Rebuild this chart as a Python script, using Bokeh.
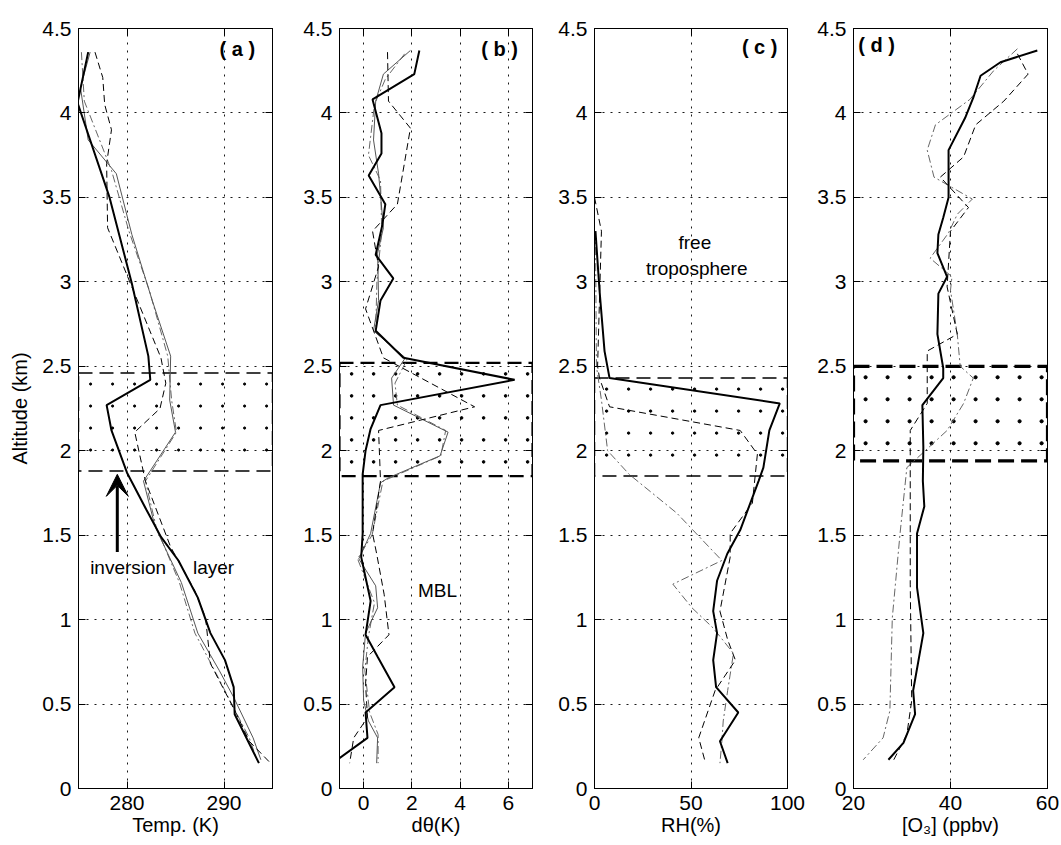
import numpy as np
from bokeh.plotting import figure
from bokeh.layouts import row
from bokeh.models import (Label, Arrow, VeeHead, LinearAxis, FixedTicker,
                          CustomJSTickFormatter, Range1d)
from bokeh.embed import file_html
from bokeh.resources import INLINE

FONT = "Liberation Sans"
ALT_TICKS = [0, 0.5, 1, 1.5, 2, 2.5, 3, 3.5, 4, 4.5]

# ---------------- panel (a): temperature ----------------
a_x_ticks = [280, 290]
a_thick_alt = [4.36, 4.06, 3.50, 2.99, 2.56, 2.42, 2.27, 2.12, 1.87, 1.65, 1.49, 1.35, 1.13, 0.92, 0.76, 0.60, 0.44, 0.15]
a_thick_T = [276.0, 274.9, 278.2, 280.5, 282.2, 282.4, 277.9, 278.4, 280.0, 282.0, 283.5, 285.3, 287.3, 288.6, 290.1, 291.0, 291.1, 293.6]
a_thin_alt = [4.36, 4.15, 3.84, 3.64, 3.28, 2.89, 2.56, 2.30, 2.11, 1.82, 1.55, 1.22, 0.92, 0.70, 0.54, 0.30, 0.17]
a_thin_T = [276.2, 275.2, 276.0, 278.9, 280.5, 282.6, 284.5, 284.4, 285.0, 281.7, 282.9, 285.6, 287.3, 289.5, 291.0, 293.0, 293.8]
a_dash_alt = [4.36, 4.21, 4.05, 3.90, 3.70, 3.32, 2.97, 2.55, 2.40, 2.25, 2.11, 1.82, 1.67, 1.43, 1.17, 1.01, 0.74, 0.44, 0.28, 0.15]
a_dash_T = [276.7, 277.5, 277.7, 278.4, 277.9, 278.0, 280.5, 283.5, 284.0, 283.4, 280.8, 281.9, 282.9, 284.5, 287.0, 288.1, 288.6, 291.3, 292.6, 294.8]
a_dd_alt = [4.36, 4.07, 3.66, 3.30, 2.95, 2.56, 2.30, 2.11, 1.82, 1.55, 1.22, 0.92, 0.68, 0.50, 0.30, 0.17]
a_dd_T = [275.3, 275.6, 278.4, 280.2, 282.3, 284.2, 284.6, 285.1, 281.9, 283.0, 285.4, 287.0, 289.2, 290.8, 292.6, 293.4]
a_box = [1.88, 2.46]

# ---------------- panel (b): d theta ----------------
b_x_ticks = [0, 2, 4, 6]
b_thick_alt = [4.37, 4.23, 4.08, 3.88, 3.76, 3.63, 3.46, 3.34, 3.16, 3.02, 2.89, 2.71, 2.55, 2.42, 2.27, 2.13, 2.00, 1.86, 1.51, 1.37, 1.11, 0.91, 0.78, 0.60, 0.45, 0.30, 0.15]
b_thick_d = [2.31, 2.10, 0.37, 0.74, 0.74, 0.21, 0.90, 0.78, 0.50, 1.23, 0.70, 0.50, 1.65, 6.26, 0.70, 0.29, 0.08, -0.04, -0.04, -0.10, 0.29, 0.08, 0.58, 1.28, 0.08, 0.16, -1.28]
b_thin_alt = [4.37, 4.23, 4.07, 3.84, 3.64, 3.32, 3.17, 2.89, 2.71, 2.55, 2.43, 2.27, 2.11, 1.97, 1.84, 1.81, 1.51, 1.36, 1.20, 1.07, 0.92, 0.72, 0.52, 0.40, 0.30, 0.15]
b_thin_d = [1.94, 0.82, 0.50, 0.41, 0.62, 0.82, 0.58, 0.62, 0.41, 1.73, 1.16, 1.24, 3.50, 3.17, 1.03, 0.70, 0.29, -0.20, 0.50, 0.58, 0.08, -0.04, 0.00, 0.20, 0.58, 0.54]
b_dash_alt = [4.36, 4.07, 3.91, 3.46, 3.30, 3.09, 2.84, 2.55, 2.26, 2.12, 1.82, 1.51, 1.39, 1.15, 0.91, 0.78, 0.62, 0.42, 0.30, 0.15]
b_dash_d = [0.99, 1.03, 1.94, 1.40, 0.37, 0.62, 0.08, 0.82, 4.60, 0.62, 0.70, 0.37, 0.54, 0.85, 1.05, 0.16, 0.08, 0.16, -0.41, -0.58]
b_dd_alt = [4.35, 4.20, 4.05, 3.75, 3.60, 3.30, 3.00, 2.70, 2.54, 2.40, 2.27, 2.12, 1.97, 1.82, 1.50, 1.36, 1.10, 0.90, 0.70, 0.45, 0.32, 0.15]
b_dd_d = [1.70, 0.90, 0.45, 0.20, 0.70, 0.75, 0.55, 0.50, 1.80, 1.30, 1.40, 3.40, 3.20, 0.80, 0.35, -0.25, 0.45, 0.20, 0.05, 0.25, 0.60, 0.60]
b_box = [1.85, 2.52]

# ---------------- panel (c): RH ----------------
c_x_ticks = [0, 50, 100]
c_thick_alt = [3.30, 2.95, 2.59, 2.43, 2.28, 2.12, 1.90, 1.82, 1.53, 1.39, 1.23, 1.05, 0.92, 0.76, 0.60, 0.45, 0.28, 0.15]
c_thick_rh = [0.5, 2.6, 5.2, 7.8, 96.0, 90.6, 87.5, 85.0, 75.5, 68.8, 63.5, 61.5, 63.5, 61.5, 63.0, 74.5, 65.0, 69.0]
c_dash_alt = [3.50, 3.30, 2.50, 2.43, 2.26, 2.12, 1.98, 1.69, 1.51, 1.37, 1.05, 0.88, 0.76, 0.58, 0.30, 0.16]
c_dash_rh = [0.0, 3.6, 1.6, 2.6, 7.8, 75.5, 84.4, 81.8, 70.3, 70.3, 65.0, 69.0, 73.0, 62.5, 54.0, 57.3]
c_dd_alt = [3.30, 2.50, 2.30, 2.00, 1.86, 1.63, 1.35, 1.21, 1.07, 0.95, 0.80, 0.58, 0.40, 0.28, 0.15]
c_dd_rh = [0.5, 1.0, 3.6, 6.8, 18.0, 42.7, 66.0, 40.6, 50.5, 61.5, 72.0, 69.0, 66.7, 66.0, 65.0]
c_box = [1.85, 2.43]

# ---------------- panel (d): ozone ----------------
d_x_ticks = [20, 40, 60]
d_thick_alt = [4.37, 4.30, 4.22, 4.09, 3.97, 3.78, 3.50, 3.38, 3.28, 3.17, 3.03, 2.93, 2.69, 2.49, 2.43, 2.27, 2.02, 1.82, 1.67, 1.51, 1.19, 0.92, 0.58, 0.44, 0.27, 0.17]
d_thick_o3 = [57.9, 50.3, 46.2, 44.7, 43.0, 39.6, 39.6, 38.5, 37.5, 37.3, 39.3, 37.5, 37.3, 38.5, 38.5, 34.2, 34.4, 34.3, 34.6, 33.1, 33.1, 34.4, 32.3, 32.7, 30.3, 27.2]
d_dd_alt = [4.38, 4.25, 4.08, 3.93, 3.78, 3.62, 3.49, 3.40, 3.29, 3.14, 3.03, 2.95, 2.69, 2.50, 2.43, 2.28, 2.12, 1.90, 1.51, 1.01, 0.46, 0.30, 0.17]
d_dd_o3 = [53.8, 48.9, 44.0, 36.9, 35.2, 36.6, 44.5, 41.4, 39.6, 35.8, 40.3, 40.0, 41.4, 42.0, 44.7, 42.7, 39.3, 31.0, 29.6, 28.0, 27.5, 26.1, 22.0]
d_dash_alt = [4.35, 4.23, 4.07, 3.93, 3.74, 3.62, 3.44, 3.30, 2.97, 2.69, 2.59, 2.46, 2.28, 2.12, 1.90, 1.21, 0.52, 0.32, 0.17]
d_dash_o3 = [53.8, 56.0, 51.0, 45.2, 42.7, 37.9, 43.7, 40.0, 39.3, 41.4, 35.2, 35.2, 35.2, 31.7, 31.7, 31.7, 32.0, 31.0, 28.3]
d_box = [1.94, 2.50]

STYLES = {
    "thick": dict(line_color="black", line_width=2.0),
    "thin": dict(line_color="#555555", line_width=1.0),
    "dash": dict(line_color="black", line_width=1.0, line_dash="7 4"),
    "dd": dict(line_color="#666666", line_width=1.0, line_dash="8 3 2 3"),
}

FRAME_H = 760.0
DOT_PITCH = 22.0  # pixels between stipple dots


def panel(xlim, xticks, xlabel, left, right, frame_w, ylabel=None):
    p = figure(width=left + frame_w + right, height=845,
               x_range=Range1d(*xlim), y_range=Range1d(0, 4.5),
               output_backend="svg", toolbar_location=None,
               min_border_left=left, min_border_right=right,
               min_border_top=28, min_border_bottom=57,
               background_fill_color="white", border_fill_color="white")
    p.outline_line_color = "black"
    p.add_layout(LinearAxis(), "right")
    p.add_layout(LinearAxis(), "above")
    for ax in p.xaxis:
        ax.ticker = FixedTicker(ticks=xticks)
    for ax in p.yaxis:
        ax.ticker = FixedTicker(ticks=ALT_TICKS)
    for ax in p.axis:
        ax.axis_line_color = "black"
        ax.major_tick_line_color = "black"
        ax.major_tick_in = 7
        ax.major_tick_out = 0
        ax.minor_tick_in = 0
        ax.minor_tick_out = 0
        ax.minor_tick_line_color = None
        ax.major_label_text_font = FONT
        ax.major_label_text_font_size = "21px"
        ax.major_label_text_color = "black"
        ax.major_label_standoff = 7
        ax.axis_label_text_font = FONT
        ax.axis_label_text_font_size = "20px"
        ax.axis_label_text_font_style = "normal"
        ax.axis_label_text_color = "black"
        ax.axis_label_standoff = 1
    p.below[0].formatter = CustomJSTickFormatter(code="return String(tick)")
    p.left[0].formatter = CustomJSTickFormatter(code="return String(tick)")
    p.right[0].formatter = CustomJSTickFormatter(code="return ''")
    p.above[0].formatter = CustomJSTickFormatter(code="return ''")
    p.above[0].major_label_standoff = 0
    p.right[0].major_label_standoff = 0
    p.below[0].axis_label = xlabel
    if ylabel:
        p.left[0].axis_label = ylabel
        p.left[0].axis_label_standoff = 8
    p.xgrid.ticker = FixedTicker(ticks=xticks)
    p.ygrid.ticker = FixedTicker(ticks=ALT_TICKS)
    p.grid.grid_line_color = "black"
    p.grid.grid_line_dash = "2 6"
    p.grid.grid_line_width = 1
    p.grid.grid_line_alpha = 0.9
    return p


def box(p, xlim, frame_w, rng, width, dash, dot):
    # stippled inversion-layer box: dashed outline + regular dot pattern
    dx = (xlim[1] - xlim[0]) * DOT_PITCH / frame_w
    dy = 4.5 * DOT_PITCH / FRAME_H
    xs = np.arange(xlim[0] + 0.55 * dx, xlim[1], dx)
    ys = np.arange(rng[1] - 0.5 * dy, rng[0], -dy)
    gx, gy = np.meshgrid(xs, ys)
    p.scatter(gx.ravel(), gy.ravel(), size=dot, color="black", marker="circle")
    p.quad(left=[xlim[0]], right=[xlim[1]], bottom=[rng[0]], top=[rng[1]],
           fill_color=None, line_color="black", line_width=width, line_dash=dash)


def lbl(p, x, y, text, align="left", bold=False, size="19px"):
    p.add_layout(Label(x=x, y=y, text=text, text_align=align, text_baseline="middle",
                       text_font=FONT, text_font_size=size, text_color="black",
                       text_font_style="bold" if bold else "normal"))


# panel a
xa = (275, 295)
pa = panel(xa, a_x_ticks, "Temp. (K)", 78, 18, 194, ylabel="Altitude (km)")
box(pa, xa, 194, a_box, 1.5, "14 7", 2.2)
pa.line(a_dd_T, a_dd_alt, **STYLES["dd"])
pa.line(a_thin_T, a_thin_alt, **STYLES["thin"])
pa.line(a_dash_T, a_dash_alt, **STYLES["dash"])
pa.line(a_thick_T, a_thick_alt, **STYLES["thick"])
lbl(pa, 293.2, 4.38, "( a )", align="right", bold=True, size="20px")
lbl(pa, 276.2, 1.31, "inversion")
lbl(pa, 286.8, 1.31, "layer")
pa.add_layout(Arrow(x_start=279.0, y_start=1.40, x_end=279.0, y_end=1.86, line_width=3,
                    line_color="black",
                    end=VeeHead(size=22, fill_color="black", line_color="black", line_width=1)))

# panel b
xb = (-1, 7)
pb = panel(xb, b_x_ticks, "dθ(K)", 49, 18, 193)
box(pb, xb, 193, b_box, 2.2, "14 7", 2.6)
pb.line(b_dd_d, b_dd_alt, **STYLES["dd"])
pb.line(b_thin_d, b_thin_alt, **STYLES["thin"])
pb.line(b_dash_d, b_dash_alt, **STYLES["dash"])
pb.line(b_thick_d, b_thick_alt, **STYLES["thick"])
lbl(pb, 6.4, 4.38, "( b )", align="right", bold=True, size="20px")
lbl(pb, 3.06, 1.17, "MBL", align="center")

# panel c
xc = (0, 100)
pc = panel(xc, c_x_ticks, "RH(%)", 44, 18, 193)
box(pc, xc, 193, c_box, 1.5, "14 7", 2.4)
pc.line(c_dd_rh, c_dd_alt, **STYLES["dd"])
pc.line(c_dash_rh, c_dash_alt, **STYLES["dash"])
pc.line(c_thick_rh, c_thick_alt, **STYLES["thick"])
lbl(pc, 94.8, 4.39, "( c )", align="right", bold=True, size="20px")
lbl(pc, 52, 3.23, "free", align="center")
lbl(pc, 53, 3.08, "troposphere", align="center")

# panel d
xd = (20, 60)
pd = panel(xd, d_x_ticks, "[O₃] (ppbv)", 48, 14, 194)
box(pd, xd, 194, d_box, 3.2, "16 7", 3.2)
pd.line(d_dd_o3, d_dd_alt, **STYLES["dd"])
pd.line(d_dash_o3, d_dash_alt, **STYLES["dash"])
pd.line(d_thick_o3, d_thick_alt, **STYLES["thick"])
lbl(pd, 21.0, 4.40, "( d )", bold=True, size="20px")

layout = row(pa, pb, pc, pd)
open("out.html", "w").write(file_html(layout, INLINE))
